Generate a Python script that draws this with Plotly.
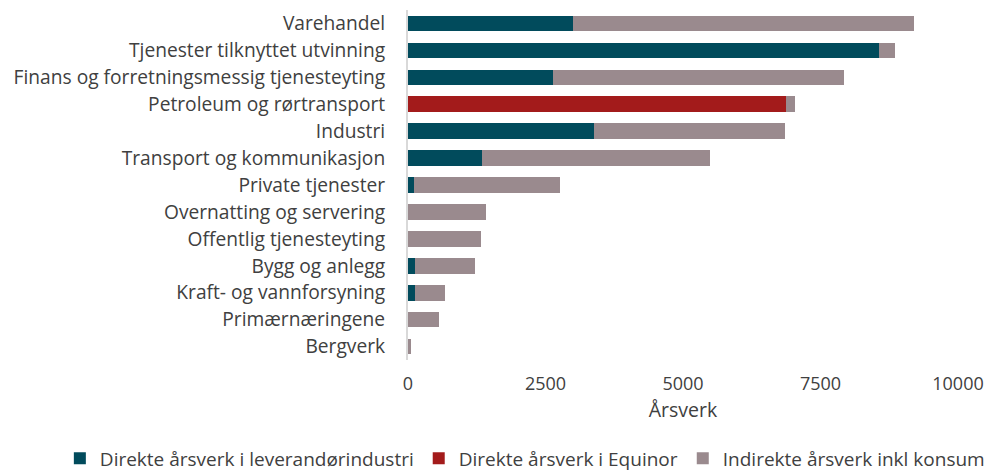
import plotly.graph_objects as go

categories = [
    "Varehandel",
    "Tjenester tilknyttet utvinning",
    "Finans og forretningsmessig tjenesteyting",
    "Petroleum og rørtransport",
    "Industri",
    "Transport og kommunikasjon",
    "Private tjenester",
    "Overnatting og servering",
    "Offentlig tjenesteyting",
    "Bygg og anlegg",
    "Kraft- og vannforsyning",
    "Primærnæringene",
    "Bergverk",
]
direkte_leverandor = [2995, 8570, 2635, 0, 3390, 1340, 115, 0, 0, 135, 135, 0, 0]
direkte_equinor = [0, 0, 0, 6880, 0, 0, 0, 0, 0, 0, 0, 0, 0]
indirekte = [6205, 290, 5290, 160, 3470, 4155, 2645, 1410, 1320, 1080, 540, 565, 60]

series_names = [
    "Direkte årsverk i leverandørindustri",
    "Direkte årsverk i Equinor",
    "Indirekte årsverk inkl konsum",
]
colors = ["#014b5c", "#a31b1b", "#9a8a8e"]
x_ticks = [0, 2500, 5000, 7500, 10000]

FONT = "Open Sans, Noto Sans, sans-serif"
TXT = "#404040"

fig = go.Figure()
for name, vals, col in zip(series_names, [direkte_leverandor, direkte_equinor, indirekte], colors):
    fig.add_trace(go.Bar(
        y=categories, x=vals, name=name, orientation="h",
        marker=dict(color=col, line=dict(width=0)),
        showlegend=False,
    ))
# legend entries with small square swatches
for name, col in zip(series_names, colors):
    fig.add_trace(go.Scatter(
        x=[None], y=[None], mode="markers", name=name,
        marker=dict(symbol="square", size=12, color=col),
        showlegend=True,
    ))

# page body has an 8px margin, so the figure is offset by 8px inside the window
fig.update_layout(
    barmode="stack",
    bargap=0.42,
    width=985, height=463,
    margin=dict(l=400, r=35, t=2, b=111, autoexpand=False),
    paper_bgcolor="white", plot_bgcolor="white",
    font=dict(family=FONT, size=19, color=TXT),
    showlegend=True,
    legend=dict(orientation="h", xref="paper", yref="paper",
                x=-0.633, xanchor="left", y=-0.281, yanchor="middle",
                font=dict(size=19, color=TXT), traceorder="normal",
                itemwidth=30, tracegroupgap=0, bgcolor="rgba(0,0,0,0)"),
)
fig.update_xaxes(
    range=[0, 10000], tickvals=x_ticks, ticktext=[str(v) for v in x_ticks],
    tickfont=dict(size=18, color=TXT),
    showgrid=False, zeroline=False, showline=False, automargin=False,
    ticklabelstandoff=11, ticklabeloverflow="allow",
    title=dict(text="Årsverk", font=dict(size=19.5, color=TXT), standoff=9),
)
fig.update_yaxes(
    categoryorder="array", categoryarray=categories, autorange="reversed",
    tickfont=dict(size=19.2, color=TXT),
    showgrid=False, zeroline=False, automargin=False,
    showline=True, linecolor="#d9d9d9", linewidth=2,
    ticks="", ticklabelstandoff=17,
)

fig.write_html("out.html")
